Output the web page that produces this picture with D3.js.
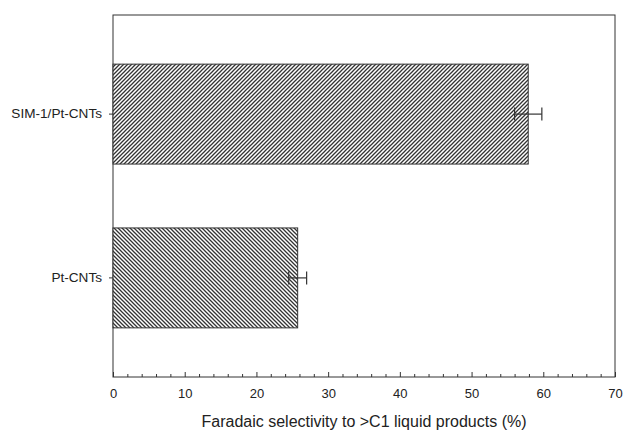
<!DOCTYPE html>
<html>
<head>
<meta charset="utf-8">
<script src="https://cdn.jsdelivr.net/npm/d3@7"></script>
<style>
  body { margin: 0; background: #fff; }
  text { font-family: "Liberation Sans", Arial, sans-serif; fill: #222; }
  .axis path, .axis line { stroke: #333; }
</style>
</head>
<body>
<div id="chart"></div>
<script>
// data
var categories = ["SIM-1/Pt-CNTs", "Pt-CNTs"];
var values = [57.9, 25.75];
var errLow = [56.0, 24.5];
var errHigh = [59.8, 27.0];
var xTicks = [0, 10, 20, 30, 40, 50, 60, 70];

var W = 624, H = 431;
var margin = { top: 15, right: 9, bottom: 54, left: 113 },
    width = W - margin.left - margin.right,
    height = H - margin.top - margin.bottom;

var svg = d3.select("#chart").append("svg")
    .attr("width", W)
    .attr("height", H);

// hatch patterns
var defs = svg.append("defs");
function hatch(id, dir) {
    var p = defs.append("pattern")
        .attr("id", id)
        .attr("patternUnits", "userSpaceOnUse")
        .attr("width", 4).attr("height", 4);
    p.append("rect").attr("width", 4).attr("height", 4).attr("fill", "#fff");
    var d = dir == "/" ? "M-1,1 l2,-2 M0,4 l4,-4 M3,5 l2,-2" : "M-1,3 l2,2 M0,0 l4,4 M3,-1 l2,2";
    p.append("path").attr("d", d).attr("stroke", "#333").attr("stroke-width", 1.3);
}
hatch("h0", "/");
hatch("h1", "\\");

var g = svg.append("g")
    .attr("transform", "translate(" + margin.left + "," + margin.top + ")");

var x = d3.scaleLinear().domain([0, 70]).range([0, width]);
var y = d3.scaleBand().domain(categories).range([0, height])
    .paddingInner(0.39).paddingOuter(0.3);

// frame
g.append("rect")
    .attr("width", width).attr("height", height)
    .attr("fill", "none").attr("stroke", "#333").attr("stroke-width", 1);

// bars
g.selectAll(".bar").data(categories).enter().append("rect")
    .attr("class", "bar")
    .attr("x", x(0))
    .attr("y", function(d) { return y(d); })
    .attr("width", function(d, i) { return x(values[i]) - x(0); })
    .attr("height", y.bandwidth())
    .attr("fill", function(d, i) { return "url(#h" + i + ")"; })
    .attr("stroke", "#333").attr("stroke-width", 1);

// error bars
categories.forEach(function(c, i) {
    var cy = y(c) + y.bandwidth() / 2;
    var eb = g.append("g").attr("stroke", "#333").attr("stroke-width", 1.2);
    eb.append("line").attr("x1", x(errLow[i])).attr("x2", x(errHigh[i])).attr("y1", cy).attr("y2", cy);
    eb.append("line").attr("x1", x(errLow[i])).attr("x2", x(errLow[i])).attr("y1", cy - 6.5).attr("y2", cy + 6.5);
    eb.append("line").attr("x1", x(errHigh[i])).attr("x2", x(errHigh[i])).attr("y1", cy - 6.5).attr("y2", cy + 6.5);
});

// x axis, ticks pointing inward
var minorTicks = d3.range(0, 71, 2).filter(function(v) { return v % 10 != 0; });
g.append("g")
    .attr("class", "axis")
    .attr("transform", "translate(0," + height + ")")
    .call(d3.axisBottom(x).tickValues(minorTicks).tickSize(-3).tickFormat(""))
    .call(function(s) { s.select(".domain").remove(); });

var xa = g.append("g")
    .attr("class", "axis")
    .attr("transform", "translate(0," + height + ")")
    .call(d3.axisBottom(x).tickValues(xTicks).tickSize(-5).tickPadding(12));
xa.select(".domain").remove();
xa.selectAll("text").style("font-size", "13px").attr("fill", "#222");

// y axis
var ya = g.append("g")
    .attr("class", "axis")
    .call(d3.axisLeft(y).tickSize(4).tickPadding(7));
ya.select(".domain").remove();
ya.selectAll("text").style("font-size", "13.6px").attr("fill", "#222");

// axis title
g.append("text")
    .attr("x", width / 2)
    .attr("y", height + 50)
    .attr("text-anchor", "middle")
    .style("font-size", "16px")
    .text("Faradaic selectivity to >C1 liquid products (%)");
</script>
</body>
</html>
